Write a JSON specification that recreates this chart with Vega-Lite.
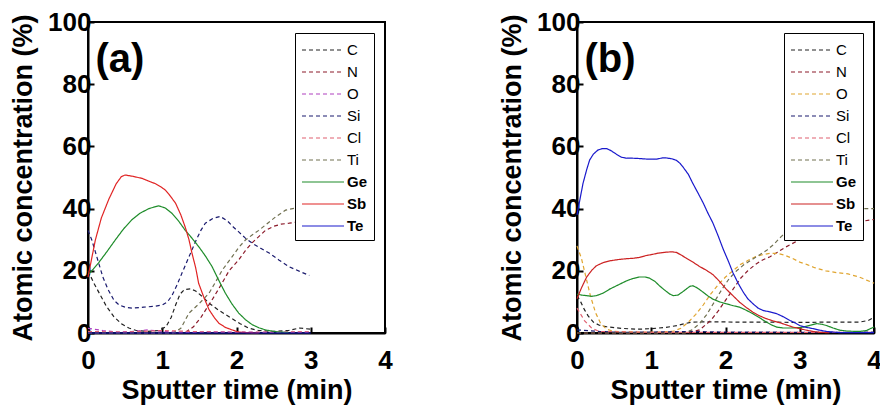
{
  "$schema": "https://vega.github.io/schema/vega-lite/v6.json",
  "padding": {"left": 8, "top": 8, "right": 2, "bottom": 2},
  "background": "white",
  "config": {
    "view": {"stroke": "black", "strokeWidth": 2},
    "font": "Liberation Sans",
    "axis": {
      "domainColor": "black", "domainWidth": 2, "grid": false,
      "tickColor": "black", "tickWidth": 2, "labelFlush": false, "labelOverlap": false,
      "labelFont": "Liberation Sans", "labelFontWeight": "bold", "labelFontSize": 26, "labelColor": "black",
      "titleFont": "Liberation Sans", "titleFontWeight": "bold", "titleFontSize": 27, "titleColor": "black"
    },
    "legend": {
      "labelFont": "Liberation Sans", "labelFontSize": 15, "labelColor": "black",
      "symbolType": "M-1,0H3.2", "symbolSize": 400, "rowPadding": 3, "labelOffset": 24,
      "strokeColor": "black", "fillColor": "white", "padding": 6, "orient": "top-right", "offset": 11
    }
  },
  "datasets": {
    "a": [
      {"el":"C","t":0,"v":20},{"el":"C","t":0.08,"v":16},{"el":"C","t":0.17,"v":12},{"el":"C","t":0.25,"v":8.5},{"el":"C","t":0.35,"v":5.2},{"el":"C","t":0.45,"v":3},{"el":"C","t":0.55,"v":1.6},{"el":"C","t":0.65,"v":0.8},{"el":"C","t":0.8,"v":0.5},{"el":"C","t":0.95,"v":0.8},{"el":"C","t":1.05,"v":2},{"el":"C","t":1.12,"v":5},{"el":"C","t":1.18,"v":9},{"el":"C","t":1.24,"v":12.5},{"el":"C","t":1.3,"v":14},{"el":"C","t":1.38,"v":14.2},{"el":"C","t":1.45,"v":13.5},{"el":"C","t":1.55,"v":11.5},{"el":"C","t":1.63,"v":9.6},{"el":"C","t":1.75,"v":7.5},{"el":"C","t":1.9,"v":5.2},{"el":"C","t":2.05,"v":3},{"el":"C","t":2.17,"v":1.5},{"el":"C","t":2.3,"v":0.8},{"el":"C","t":2.5,"v":0.5},{"el":"C","t":2.7,"v":0.8},{"el":"C","t":2.85,"v":1.6},{"el":"C","t":3.0,"v":1.2},
      {"el":"N","t":0,"v":0},{"el":"N","t":1.3,"v":0},{"el":"N","t":1.42,"v":2},{"el":"N","t":1.52,"v":5},{"el":"N","t":1.6,"v":8},{"el":"N","t":1.67,"v":10.6},{"el":"N","t":1.78,"v":15},{"el":"N","t":1.9,"v":20},{"el":"N","t":2.03,"v":23.5},{"el":"N","t":2.12,"v":26.5},{"el":"N","t":2.21,"v":29},{"el":"N","t":2.3,"v":31},{"el":"N","t":2.39,"v":33},{"el":"N","t":2.5,"v":34.3},{"el":"N","t":2.6,"v":35},{"el":"N","t":2.71,"v":35.3},{"el":"N","t":2.85,"v":35.8},{"el":"N","t":3.0,"v":36},
      {"el":"O","t":0,"v":1.5},{"el":"O","t":0.2,"v":0.8},{"el":"O","t":0.4,"v":0.3},{"el":"O","t":0.6,"v":0.5},{"el":"O","t":0.8,"v":1},{"el":"O","t":1.0,"v":0.5},{"el":"O","t":1.2,"v":0.3},{"el":"O","t":1.4,"v":0.2},{"el":"O","t":1.6,"v":0.4},{"el":"O","t":2.0,"v":0.3},{"el":"O","t":2.5,"v":0.2},{"el":"O","t":3.0,"v":0.3},
      {"el":"Si","t":0,"v":33},{"el":"Si","t":0.05,"v":30},{"el":"Si","t":0.1,"v":26},{"el":"Si","t":0.15,"v":22},{"el":"Si","t":0.2,"v":18},{"el":"Si","t":0.27,"v":14},{"el":"Si","t":0.35,"v":10.5},{"el":"Si","t":0.42,"v":9},{"el":"Si","t":0.5,"v":8.3},{"el":"Si","t":0.6,"v":8},{"el":"Si","t":0.75,"v":8.3},{"el":"Si","t":0.9,"v":8.6},{"el":"Si","t":1.0,"v":9},{"el":"Si","t":1.07,"v":10},{"el":"Si","t":1.13,"v":12},{"el":"Si","t":1.2,"v":15.5},{"el":"Si","t":1.27,"v":19.5},{"el":"Si","t":1.36,"v":24.5},{"el":"Si","t":1.45,"v":29.5},{"el":"Si","t":1.52,"v":33},{"el":"Si","t":1.58,"v":35.3},{"el":"Si","t":1.68,"v":36.8},{"el":"Si","t":1.78,"v":37.5},{"el":"Si","t":1.88,"v":36},{"el":"Si","t":1.96,"v":34},{"el":"Si","t":2.03,"v":32.5},{"el":"Si","t":2.12,"v":30.5},{"el":"Si","t":2.21,"v":28.9},{"el":"Si","t":2.32,"v":27.3},{"el":"Si","t":2.44,"v":25.7},{"el":"Si","t":2.57,"v":23.5},{"el":"Si","t":2.71,"v":21.3},{"el":"Si","t":2.85,"v":19.8},{"el":"Si","t":2.98,"v":18.5},
      {"el":"Cl","t":0,"v":0.5},{"el":"Cl","t":0.5,"v":0.3},{"el":"Cl","t":1.0,"v":0.8},{"el":"Cl","t":1.5,"v":0.4},{"el":"Cl","t":2.0,"v":0.2},{"el":"Cl","t":2.5,"v":0.3},{"el":"Cl","t":3.0,"v":0.4},
      {"el":"Ti","t":0,"v":0},{"el":"Ti","t":1.15,"v":0},{"el":"Ti","t":1.25,"v":1.5},{"el":"Ti","t":1.36,"v":6.4},{"el":"Ti","t":1.5,"v":9.5},{"el":"Ti","t":1.63,"v":12.8},{"el":"Ti","t":1.72,"v":16.5},{"el":"Ti","t":1.81,"v":20.3},{"el":"Ti","t":1.94,"v":24.5},{"el":"Ti","t":2.03,"v":27.5},{"el":"Ti","t":2.12,"v":29.9},{"el":"Ti","t":2.21,"v":31.5},{"el":"Ti","t":2.3,"v":33},{"el":"Ti","t":2.42,"v":35.3},{"el":"Ti","t":2.53,"v":37.4},{"el":"Ti","t":2.66,"v":39.5},{"el":"Ti","t":2.8,"v":40.2},{"el":"Ti","t":2.9,"v":40},{"el":"Ti","t":3.0,"v":40.5},
      {"el":"Ge","t":0,"v":18.7},{"el":"Ge","t":0.07,"v":20.5},{"el":"Ge","t":0.14,"v":22.5},{"el":"Ge","t":0.25,"v":26},{"el":"Ge","t":0.37,"v":30},{"el":"Ge","t":0.48,"v":33.5},{"el":"Ge","t":0.59,"v":36.4},{"el":"Ge","t":0.7,"v":38.5},{"el":"Ge","t":0.82,"v":40},{"el":"Ge","t":0.95,"v":40.9},{"el":"Ge","t":1.04,"v":40.2},{"el":"Ge","t":1.13,"v":38.5},{"el":"Ge","t":1.22,"v":36},{"el":"Ge","t":1.31,"v":33},{"el":"Ge","t":1.4,"v":30.5},{"el":"Ge","t":1.49,"v":27.8},{"el":"Ge","t":1.58,"v":24.8},{"el":"Ge","t":1.67,"v":21.4},{"el":"Ge","t":1.76,"v":17},{"el":"Ge","t":1.85,"v":12.8},{"el":"Ge","t":1.94,"v":9.3},{"el":"Ge","t":2.03,"v":6.4},{"el":"Ge","t":2.12,"v":4.3},{"el":"Ge","t":2.21,"v":2.7},{"el":"Ge","t":2.3,"v":1.7},{"el":"Ge","t":2.39,"v":1},{"el":"Ge","t":2.48,"v":0.6},{"el":"Ge","t":2.57,"v":0.3},{"el":"Ge","t":2.7,"v":0.2},
      {"el":"Sb","t":0,"v":18},{"el":"Sb","t":0.05,"v":24},{"el":"Sb","t":0.1,"v":30},{"el":"Sb","t":0.18,"v":37},{"el":"Sb","t":0.28,"v":43},{"el":"Sb","t":0.38,"v":48},{"el":"Sb","t":0.45,"v":50.3},{"el":"Sb","t":0.5,"v":50.8},{"el":"Sb","t":0.6,"v":50.4},{"el":"Sb","t":0.73,"v":49.7},{"el":"Sb","t":0.82,"v":48.8},{"el":"Sb","t":0.91,"v":48},{"el":"Sb","t":0.98,"v":47},{"el":"Sb","t":1.04,"v":46},{"el":"Sb","t":1.11,"v":44},{"el":"Sb","t":1.18,"v":41.7},{"el":"Sb","t":1.25,"v":38},{"el":"Sb","t":1.31,"v":34},{"el":"Sb","t":1.36,"v":30},{"el":"Sb","t":1.4,"v":25.7},{"el":"Sb","t":1.45,"v":21},{"el":"Sb","t":1.49,"v":16},{"el":"Sb","t":1.56,"v":11.5},{"el":"Sb","t":1.63,"v":7.5},{"el":"Sb","t":1.7,"v":5},{"el":"Sb","t":1.76,"v":3.2},{"el":"Sb","t":1.85,"v":1.8},{"el":"Sb","t":1.94,"v":1},{"el":"Sb","t":2.03,"v":0.3},{"el":"Sb","t":2.15,"v":0.1},{"el":"Sb","t":2.3,"v":0},
      {"el":"Te","t":0,"v":0},{"el":"Te","t":1,"v":0},{"el":"Te","t":2,"v":0},{"el":"Te","t":3,"v":0}
    ],
    "b": [
      {"el":"C","t":0,"v":12},{"el":"C","t":0.05,"v":10},{"el":"C","t":0.1,"v":7.5},{"el":"C","t":0.15,"v":5.5},{"el":"C","t":0.22,"v":3.5},{"el":"C","t":0.3,"v":2.5},{"el":"C","t":0.4,"v":2},{"el":"C","t":0.6,"v":1.5},{"el":"C","t":0.8,"v":1.2},{"el":"C","t":1.0,"v":1.4},{"el":"C","t":1.2,"v":1.8},{"el":"C","t":1.35,"v":2.4},{"el":"C","t":1.45,"v":3},{"el":"C","t":1.55,"v":3.5},{"el":"C","t":1.8,"v":3.6},{"el":"C","t":2.2,"v":3.5},{"el":"C","t":2.6,"v":3.5},{"el":"C","t":3.0,"v":3.4},{"el":"C","t":3.4,"v":3.5},{"el":"C","t":3.8,"v":3.5},{"el":"C","t":3.92,"v":4},{"el":"C","t":4.0,"v":5},
      {"el":"N","t":0,"v":0},{"el":"N","t":1.5,"v":0},{"el":"N","t":1.65,"v":1},{"el":"N","t":1.8,"v":4},{"el":"N","t":1.9,"v":7},{"el":"N","t":2.0,"v":10.5},{"el":"N","t":2.1,"v":14},{"el":"N","t":2.2,"v":17.5},{"el":"N","t":2.3,"v":20},{"el":"N","t":2.4,"v":22},{"el":"N","t":2.5,"v":23.5},{"el":"N","t":2.6,"v":24.5},{"el":"N","t":2.7,"v":26},{"el":"N","t":2.8,"v":27.5},{"el":"N","t":3.0,"v":30},{"el":"N","t":3.2,"v":32},{"el":"N","t":3.4,"v":33.5},{"el":"N","t":3.6,"v":34.8},{"el":"N","t":3.8,"v":35.8},{"el":"N","t":4.0,"v":36.5},
      {"el":"O","t":0,"v":28},{"el":"O","t":0.06,"v":24},{"el":"O","t":0.12,"v":18},{"el":"O","t":0.18,"v":12},{"el":"O","t":0.25,"v":6.5},{"el":"O","t":0.32,"v":3},{"el":"O","t":0.4,"v":1.2},{"el":"O","t":0.5,"v":0.5},{"el":"O","t":0.8,"v":0.3},{"el":"O","t":1.1,"v":0.3},{"el":"O","t":1.3,"v":0.6},{"el":"O","t":1.4,"v":1.5},{"el":"O","t":1.5,"v":3.5},{"el":"O","t":1.6,"v":6},{"el":"O","t":1.7,"v":9},{"el":"O","t":1.8,"v":12.5},{"el":"O","t":1.9,"v":15.5},{"el":"O","t":2.0,"v":18},{"el":"O","t":2.1,"v":20},{"el":"O","t":2.2,"v":22},{"el":"O","t":2.3,"v":23.3},{"el":"O","t":2.4,"v":24.5},{"el":"O","t":2.5,"v":25.2},{"el":"O","t":2.6,"v":25.6},{"el":"O","t":2.7,"v":25.6},{"el":"O","t":2.8,"v":25},{"el":"O","t":2.9,"v":24},{"el":"O","t":3.0,"v":22.8},{"el":"O","t":3.1,"v":22},{"el":"O","t":3.2,"v":21},{"el":"O","t":3.35,"v":20},{"el":"O","t":3.5,"v":19.4},{"el":"O","t":3.65,"v":19},{"el":"O","t":3.8,"v":18},{"el":"O","t":3.9,"v":17},{"el":"O","t":4.0,"v":16},
      {"el":"Si","t":0,"v":1},{"el":"Si","t":0.3,"v":0.5},{"el":"Si","t":0.6,"v":0.2},{"el":"Si","t":1.0,"v":0.3},{"el":"Si","t":1.5,"v":0.5},{"el":"Si","t":2.0,"v":0.3},{"el":"Si","t":2.5,"v":0.3},{"el":"Si","t":3.0,"v":0.2},{"el":"Si","t":3.5,"v":0.2},{"el":"Si","t":4.0,"v":0.3},
      {"el":"Cl","t":0,"v":8},{"el":"Cl","t":0.1,"v":4},{"el":"Cl","t":0.2,"v":1.5},{"el":"Cl","t":0.3,"v":0.5},{"el":"Cl","t":1.0,"v":0.2},{"el":"Cl","t":2.0,"v":0.2},{"el":"Cl","t":3.0,"v":0.2},{"el":"Cl","t":4.0,"v":0.2},
      {"el":"Ti","t":0,"v":0},{"el":"Ti","t":1.45,"v":0},{"el":"Ti","t":1.55,"v":1},{"el":"Ti","t":1.65,"v":3},{"el":"Ti","t":1.75,"v":6},{"el":"Ti","t":1.85,"v":10},{"el":"Ti","t":1.95,"v":14},{"el":"Ti","t":2.05,"v":17.5},{"el":"Ti","t":2.15,"v":20},{"el":"Ti","t":2.25,"v":22},{"el":"Ti","t":2.35,"v":23.5},{"el":"Ti","t":2.45,"v":25},{"el":"Ti","t":2.55,"v":26.5},{"el":"Ti","t":2.65,"v":28.5},{"el":"Ti","t":2.75,"v":31},{"el":"Ti","t":2.85,"v":33},{"el":"Ti","t":3.0,"v":35},{"el":"Ti","t":3.2,"v":37},{"el":"Ti","t":3.4,"v":38.5},{"el":"Ti","t":3.6,"v":39.5},{"el":"Ti","t":3.8,"v":40},{"el":"Ti","t":4.0,"v":40},
      {"el":"Ge","t":0,"v":12.5},{"el":"Ge","t":0.06,"v":12.2},{"el":"Ge","t":0.13,"v":12},{"el":"Ge","t":0.2,"v":11.8},{"el":"Ge","t":0.26,"v":12},{"el":"Ge","t":0.35,"v":12.8},{"el":"Ge","t":0.44,"v":14.1},{"el":"Ge","t":0.55,"v":15.4},{"el":"Ge","t":0.67,"v":16.8},{"el":"Ge","t":0.75,"v":17.5},{"el":"Ge","t":0.84,"v":18},{"el":"Ge","t":0.92,"v":18},{"el":"Ge","t":0.98,"v":17.6},{"el":"Ge","t":1.05,"v":16.6},{"el":"Ge","t":1.11,"v":15.2},{"el":"Ge","t":1.18,"v":13.8},{"el":"Ge","t":1.25,"v":12.5},{"el":"Ge","t":1.3,"v":12},{"el":"Ge","t":1.36,"v":12.2},{"el":"Ge","t":1.42,"v":13.2},{"el":"Ge","t":1.47,"v":14.1},{"el":"Ge","t":1.52,"v":15},{"el":"Ge","t":1.56,"v":15.2},{"el":"Ge","t":1.62,"v":14.5},{"el":"Ge","t":1.7,"v":13.1},{"el":"Ge","t":1.77,"v":11.8},{"el":"Ge","t":1.83,"v":10.9},{"el":"Ge","t":1.92,"v":10},{"el":"Ge","t":2.01,"v":9.4},{"el":"Ge","t":2.1,"v":8.8},{"el":"Ge","t":2.19,"v":8.3},{"el":"Ge","t":2.28,"v":7.3},{"el":"Ge","t":2.37,"v":6.2},{"el":"Ge","t":2.46,"v":4.9},{"el":"Ge","t":2.55,"v":3.5},{"el":"Ge","t":2.62,"v":2.6},{"el":"Ge","t":2.69,"v":1.9},{"el":"Ge","t":2.78,"v":1.6},{"el":"Ge","t":2.87,"v":1.6},{"el":"Ge","t":2.96,"v":1.7},{"el":"Ge","t":3.05,"v":1.9},{"el":"Ge","t":3.14,"v":2.5},{"el":"Ge","t":3.23,"v":3},{"el":"Ge","t":3.3,"v":2.8},{"el":"Ge","t":3.36,"v":2.4},{"el":"Ge","t":3.45,"v":1.6},{"el":"Ge","t":3.54,"v":0.9},{"el":"Ge","t":3.65,"v":0.6},{"el":"Ge","t":3.81,"v":0.5},{"el":"Ge","t":3.9,"v":0.8},{"el":"Ge","t":3.96,"v":1.5},{"el":"Ge","t":4.0,"v":1.9},
      {"el":"Sb","t":0,"v":11},{"el":"Sb","t":0.06,"v":14.5},{"el":"Sb","t":0.13,"v":18},{"el":"Sb","t":0.2,"v":20.2},{"el":"Sb","t":0.26,"v":21.6},{"el":"Sb","t":0.35,"v":22.6},{"el":"Sb","t":0.44,"v":23.2},{"el":"Sb","t":0.55,"v":23.6},{"el":"Sb","t":0.67,"v":23.9},{"el":"Sb","t":0.75,"v":24},{"el":"Sb","t":0.84,"v":24.3},{"el":"Sb","t":0.93,"v":24.9},{"el":"Sb","t":1.02,"v":25.3},{"el":"Sb","t":1.1,"v":25.7},{"el":"Sb","t":1.2,"v":26},{"el":"Sb","t":1.28,"v":26.1},{"el":"Sb","t":1.34,"v":25.9},{"el":"Sb","t":1.4,"v":25.1},{"el":"Sb","t":1.47,"v":24.1},{"el":"Sb","t":1.56,"v":22.8},{"el":"Sb","t":1.65,"v":21.4},{"el":"Sb","t":1.74,"v":20.2},{"el":"Sb","t":1.83,"v":18.8},{"el":"Sb","t":1.92,"v":16.6},{"el":"Sb","t":2.01,"v":14.1},{"el":"Sb","t":2.1,"v":12},{"el":"Sb","t":2.19,"v":9.9},{"el":"Sb","t":2.28,"v":8.2},{"el":"Sb","t":2.37,"v":6.7},{"el":"Sb","t":2.46,"v":5.5},{"el":"Sb","t":2.55,"v":4.6},{"el":"Sb","t":2.64,"v":3.9},{"el":"Sb","t":2.73,"v":3.3},{"el":"Sb","t":2.82,"v":2.6},{"el":"Sb","t":2.91,"v":1.9},{"el":"Sb","t":3.0,"v":1.4},{"el":"Sb","t":3.09,"v":0.9},{"el":"Sb","t":3.18,"v":0.5},{"el":"Sb","t":3.27,"v":0.2},{"el":"Sb","t":3.4,"v":0.1},
      {"el":"Te","t":0,"v":38},{"el":"Te","t":0.04,"v":43},{"el":"Te","t":0.08,"v":48},{"el":"Te","t":0.13,"v":52.5},{"el":"Te","t":0.17,"v":55.6},{"el":"Te","t":0.22,"v":57.5},{"el":"Te","t":0.28,"v":58.8},{"el":"Te","t":0.34,"v":59.3},{"el":"Te","t":0.4,"v":59.3},{"el":"Te","t":0.46,"v":58.6},{"el":"Te","t":0.53,"v":57.5},{"el":"Te","t":0.6,"v":56.5},{"el":"Te","t":0.67,"v":56.2},{"el":"Te","t":0.75,"v":56.2},{"el":"Te","t":0.84,"v":56.1},{"el":"Te","t":0.95,"v":55.9},{"el":"Te","t":1.07,"v":55.9},{"el":"Te","t":1.15,"v":56.3},{"el":"Te","t":1.2,"v":56.3},{"el":"Te","t":1.28,"v":56},{"el":"Te","t":1.34,"v":55.5},{"el":"Te","t":1.39,"v":54.5},{"el":"Te","t":1.43,"v":53.3},{"el":"Te","t":1.5,"v":51},{"el":"Te","t":1.56,"v":48.1},{"el":"Te","t":1.63,"v":45},{"el":"Te","t":1.7,"v":41.8},{"el":"Te","t":1.76,"v":38.7},{"el":"Te","t":1.83,"v":35.4},{"el":"Te","t":1.9,"v":31.3},{"el":"Te","t":1.97,"v":26.9},{"el":"Te","t":2.04,"v":23},{"el":"Te","t":2.1,"v":19.4},{"el":"Te","t":2.17,"v":16},{"el":"Te","t":2.24,"v":13.1},{"el":"Te","t":2.3,"v":11},{"el":"Te","t":2.37,"v":9.4},{"el":"Te","t":2.44,"v":8},{"el":"Te","t":2.51,"v":7.2},{"el":"Te","t":2.6,"v":6.8},{"el":"Te","t":2.69,"v":6.2},{"el":"Te","t":2.78,"v":5.2},{"el":"Te","t":2.87,"v":4},{"el":"Te","t":2.94,"v":3.2},{"el":"Te","t":3.0,"v":2.4},{"el":"Te","t":3.09,"v":1.8},{"el":"Te","t":3.18,"v":1.4},{"el":"Te","t":3.27,"v":0.9},{"el":"Te","t":3.36,"v":0.5},{"el":"Te","t":3.45,"v":0.3},{"el":"Te","t":3.54,"v":0.1},{"el":"Te","t":3.8,"v":0.1},{"el":"Te","t":4.0,"v":0.1}
    ]
  },
  "spacing": 103,
  "resolve": {"scale": {"color": "independent", "strokeDash": "independent", "strokeWidth": "independent"}, "legend": {"color": "independent", "strokeDash": "independent", "strokeWidth": "independent"}},
  "hconcat": [
    {
      "width": 297, "height": 311,
      "layer": [
        {
          "data": {"name": "a"},
          "mark": {"type": "line", "clip": false},
          "encoding": {
            "x": {"field": "t", "type": "quantitative", "scale": {"domain": [0, 4], "nice": false},
              "axis": {"title": "Sputter time (min)", "values": [0,0.5,1,1.5,2,2.5,3,3.5,4], "labelExpr": "datum.value % 1 === 0 ? format(datum.value, 'd') : ''",
                "tickSize": {"condition": {"test": "datum.value % 1 === 0", "value": -6}, "value": -3}, "labelPadding": 20, "titlePadding": 4}},
            "y": {"field": "v", "type": "quantitative", "scale": {"domain": [0, 100], "nice": false},
              "axis": {"title": "Atomic concentration (%)", "values": [0,10,20,30,40,50,60,70,80,90,100], "labelExpr": "datum.value % 20 === 0 ? datum.label : ''",
                "tickSize": {"condition": {"test": "datum.value % 20 === 0", "value": -6}, "value": -3}, "labelPadding": 3, "titlePadding": 10}},
            "color": {"field": "el", "type": "nominal", "title": null,
              "scale": {"domain": ["C","N","O","Si","Cl","Ti","Ge","Sb","Te"], "range": ["#222222","#8b1a2a","#b040c0","#1a1a6e","#e06070","#707050","#1e8c2a","#e02424","#1a1acc"]},
              "legend": {"encode": {"labels": {"update": {"fontWeight": {"signal": "indexof(['Ge','Sb','Te'], datum.value) >= 0 ? 'bold' : 'normal'"}}}}}},
            "strokeDash": {"field": "el", "type": "nominal", "title": null,
              "scale": {"domain": ["C","N","O","Si","Cl","Ti","Ge","Sb","Te"], "range": [[4,3],[4,3],[4,3],[4,3],[4,3],[4,3],[1,0],[1,0],[1,0]]}},
            "strokeWidth": {"field": "el", "type": "nominal", "title": null,
              "scale": {"domain": ["C","N","O","Si","Cl","Ti","Ge","Sb","Te"], "range": [1.2,1.2,1.2,1.2,1.2,1.2,2.5,2.5,2.5]}}
          }
        },
        {
          "data": {"values": [{"label": "(a)"}]},
          "mark": {"type": "text", "align": "left", "baseline": "alphabetic", "fontSize": 40, "fontWeight": "bold", "font": "Liberation Sans", "color": "black"},
          "encoding": {"x": {"datum": 0.1}, "y": {"datum": 84}, "text": {"field": "label"}}
        }
      ]
    },
    {
      "width": 297, "height": 311,
      "layer": [
        {
          "data": {"name": "b"},
          "mark": {"type": "line", "clip": false},
          "encoding": {
            "x": {"field": "t", "type": "quantitative", "scale": {"domain": [0, 4], "nice": false},
              "axis": {"title": "Sputter time (min)", "values": [0,0.5,1,1.5,2,2.5,3,3.5,4], "labelExpr": "datum.value % 1 === 0 ? format(datum.value, 'd') : ''",
                "tickSize": {"condition": {"test": "datum.value % 1 === 0", "value": -6}, "value": -3}, "labelPadding": 20, "titlePadding": 4}},
            "y": {"field": "v", "type": "quantitative", "scale": {"domain": [0, 100], "nice": false},
              "axis": {"title": "Atomic concentration (%)", "values": [0,10,20,30,40,50,60,70,80,90,100], "labelExpr": "datum.value % 20 === 0 ? datum.label : ''",
                "tickSize": {"condition": {"test": "datum.value % 20 === 0", "value": -6}, "value": -3}, "labelPadding": 3, "titlePadding": 10}},
            "color": {"field": "el", "type": "nominal", "title": null,
              "scale": {"domain": ["C","N","O","Si","Cl","Ti","Ge","Sb","Te"], "range": ["#222222","#8b1a2a","#e0a530","#1a1a6e","#e06070","#707050","#1e8c2a","#cc2222","#1a1acc"]},
              "legend": {"encode": {"labels": {"update": {"fontWeight": {"signal": "indexof(['Ge','Sb','Te'], datum.value) >= 0 ? 'bold' : 'normal'"}}}}}},
            "strokeDash": {"field": "el", "type": "nominal", "title": null,
              "scale": {"domain": ["C","N","O","Si","Cl","Ti","Ge","Sb","Te"], "range": [[4,3],[4,3],[4,3],[4,3],[4,3],[4,3],[1,0],[1,0],[1,0]]}},
            "strokeWidth": {"field": "el", "type": "nominal", "title": null,
              "scale": {"domain": ["C","N","O","Si","Cl","Ti","Ge","Sb","Te"], "range": [1.2,1.2,1.2,1.2,1.2,1.2,2.5,2.5,2.5]}}
          }
        },
        {
          "data": {"values": [{"label": "(b)"}]},
          "mark": {"type": "text", "align": "left", "baseline": "alphabetic", "fontSize": 40, "fontWeight": "bold", "font": "Liberation Sans", "color": "black"},
          "encoding": {"x": {"datum": 0.1}, "y": {"datum": 84}, "text": {"field": "label"}}
        }
      ]
    }
  ]
}
